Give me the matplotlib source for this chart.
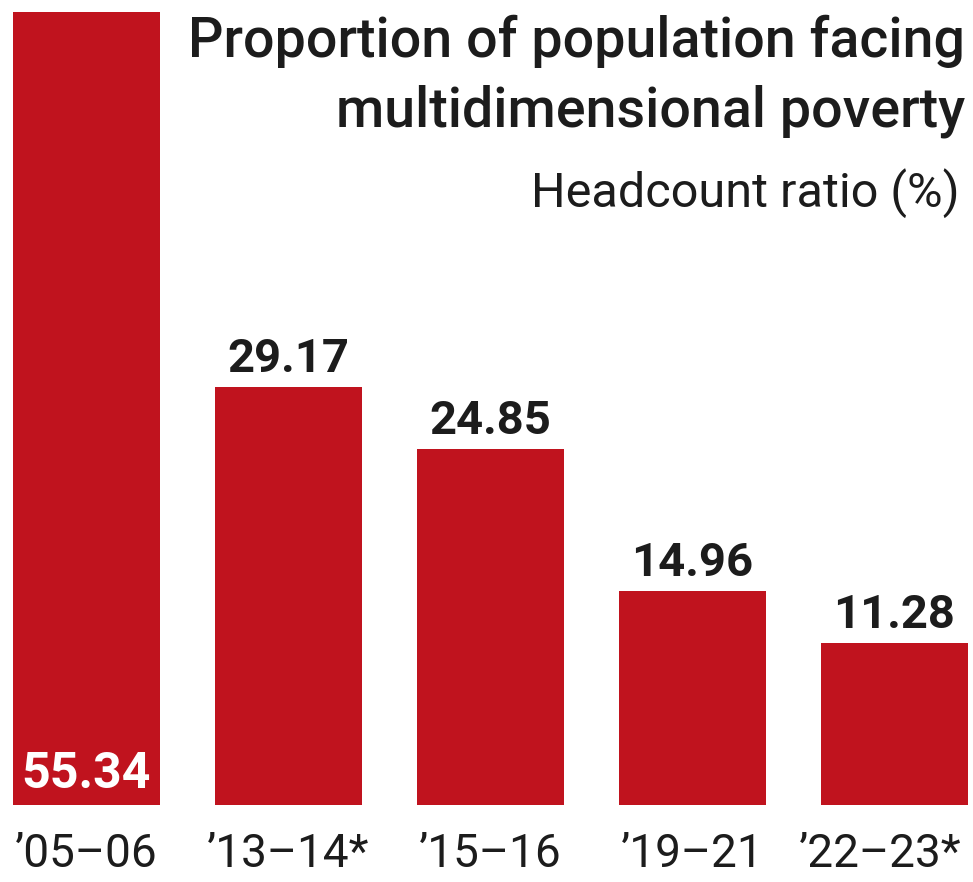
import matplotlib
matplotlib.use('Agg')
import matplotlib.pyplot as plt

# data
years = ['’05–06', '’13–14*', '’15–16', '’19–21', '’22–23*']
headcount = [55.34, 29.17, 24.85, 14.96, 11.28]

title_lines = ['Proportion of population facing', 'multidimensional poverty']
subtitle = 'Headcount ratio (%)'

red = '#c0131e'
ink = '#1c1c1c'
fam = ['Roboto', 'DejaVu Sans']

W, H = 973, 882
fig = plt.figure(figsize=(W / 100, H / 100), dpi=100)
fig.patch.set_facecolor('white')

# axes: bar bottom at y=805px, tallest bar top at y=12px
ax = fig.add_axes([0, 77 / H, 1, 1 - 77 / H - 12 / H])
x = list(range(len(years)))
ax.bar(x, headcount, width=0.728, color=red)
ax.set_xlim(-86.5 / 202, (W - 86.5) / 202)
ax.set_ylim(0, max(headcount))
ax.axis('off')

# value labels
for i, v in enumerate(headcount):
    if i == 0:
        ax.annotate(f'{v:.2f}', (i, 0), xytext=(0, 12.2), textcoords='offset points',
                    ha='center', va='baseline', fontsize=36, fontweight='bold',
                    family=fam, color='white')
    else:
        ax.annotate(f'{v:.2f}', (i, v), xytext=(0, 10.8), textcoords='offset points',
                    ha='center', va='baseline', fontsize=34, fontweight='bold',
                    family=fam, color=ink)

# category labels under the bars (baseline 15px above the bottom edge)
for i, lab in enumerate(years):
    dx = -10 if i == len(years) - 1 else 0
    ax.annotate(lab, (i, 0), xytext=(dx, -62 / 1.389), textcoords='offset points',
                ha='center', va='baseline', fontsize=33, family=fam, color=ink)

# title block, right aligned
fig.text(965 / W, 1 - 57 / H, title_lines[0], ha='right', va='baseline',
         fontsize=40, fontweight='medium', family=fam, color=ink)
fig.text(965 / W, 1 - 127 / H, title_lines[1], ha='right', va='baseline',
         fontsize=40, fontweight='medium', family=fam, color=ink)
fig.text(960 / W, 1 - 207 / H, subtitle, ha='right', va='baseline',
         fontsize=35, family=fam, color=ink)

fig.savefig('out.png', dpi=100, facecolor='white')
